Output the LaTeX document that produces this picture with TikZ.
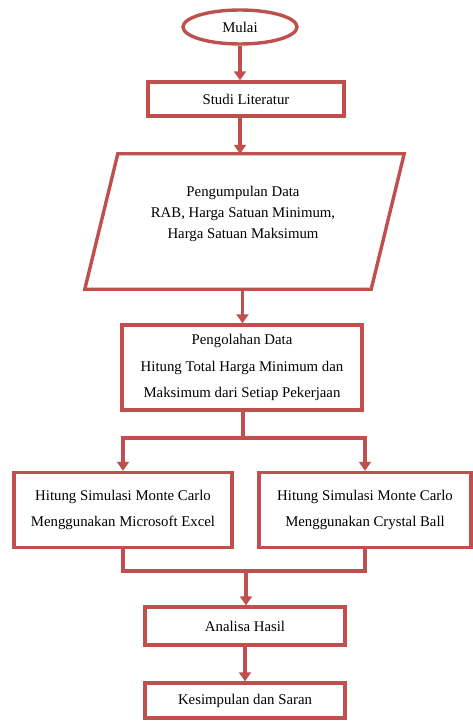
\documentclass[tikz,border=0pt]{standalone}
\usepackage{fontspec}
\setmainfont{Liberation Serif}
\usetikzlibrary{shapes.geometric,arrows.meta}
\definecolor{lred}{RGB}{192,80,77}
\tikzset{
  line/.style={draw=lred,line width=3.4pt},
  arr/.style={line,-{Triangle[length=9pt,width=12pt]}},
  box/.style={draw=lred,line width=3.4pt,rectangle,inner sep=0pt,font=\fontsize{14.8}{26.5}\selectfont,align=center},
  txt/.style={font=\fontsize{14.8}{21}\selectfont,align=center,inner sep=0pt}
}
\begin{document}
\begin{tikzpicture}[x=1pt,y=-1pt]
\useasboundingbox (0,0) rectangle (472,722);
\node[draw=lred,line width=3.4pt,ellipse,minimum width=114pt,minimum height=34pt,inner sep=0pt,font=\fontsize{14.8}{15}\selectfont] (mulai) at (240,27) {Mulai};
\node[box,minimum width=196pt,minimum height=34pt] (studi) at (246,99) {Studi Literatur};
\node[inner sep=0pt,minimum width=319pt,minimum height=135pt] (pd) at (244.5,221.5) {};
\node[txt] (pdtext) at (243,214) {Pengumpulan Data\\RAB, Harga Satuan Minimum,\\Harga Satuan Maksimum};
\draw[line,line join=miter] ([xshift=33pt]pd.north west) -- (pd.north east) -- ([xshift=-33pt]pd.south east) -- (pd.south west) -- cycle;
\node[box,minimum width=240pt,minimum height=85pt] (olah) at (242,367.5) {Pengolahan Data\\Hitung Total Harga Minimum dan\\Maksimum dari Setiap Pekerjaan};
\node[box,minimum width=218pt,minimum height=75pt] (excel) at (123,510) {Hitung Simulasi Monte Carlo\\Menggunakan Microsoft Excel};
\node[box,minimum width=212pt,minimum height=75pt] (crystal) at (365,510) {Hitung Simulasi Monte Carlo\\Menggunakan Crystal Ball};
\node[box,minimum width=200pt,minimum height=38pt] (analisa) at (245,626) {Analisa Hasil};
\node[box,minimum width=200pt,minimum height=35pt] (kesim) at (245,700.5) {Kesimpulan dan Saran};
\coordinate (split) at (243,438);
\coordinate (merge) at (246,571);
\draw[arr] (mulai.south) -- (mulai.south |- studi.north);
\draw[arr] ([xshift=-6pt]studi.south) -- ([xshift=-6pt]studi.south |- pd.north);
\draw[arr] ([xshift=-2pt]pd.south) -- ([xshift=-2pt]pd.south |- olah.north);
\draw[line] ([xshift=1pt]olah.south) -- (split);
\draw[arr] (split) -| (excel.north);
\draw[arr] (split) -| (crystal.north);
\draw[line] (excel.south) |- (merge);
\draw[line] (crystal.south) |- (merge);
\draw[arr] (merge) -- (merge |- analisa.north);
\draw[arr] (analisa.south) -- (kesim.north);
\end{tikzpicture}
\end{document}
